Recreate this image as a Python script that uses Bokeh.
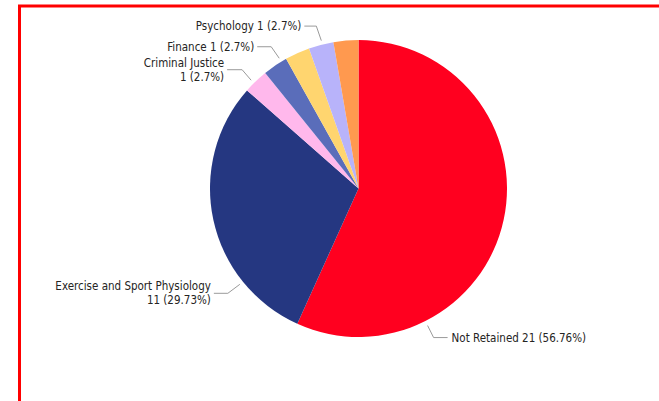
import math
from bokeh.plotting import figure
from bokeh.models import Range1d, ColumnDataSource
from bokeh.embed import file_html
from bokeh.resources import INLINE
from bokeh.core.properties import value

# ---- data ----
categories = ["Not Retained", "Exercise and Sport Physiology", "Criminal Justice",
              "Finance", "", "Psychology", ""]   # two slices carry no visible label
counts = [21, 11, 1, 1, 1, 1, 1]
colors = ["#FF001F", "#253781", "#FFB8EC", "#5A6DBA", "#FFD56F", "#B8B3FA", "#FF994F"]

# ---- layout (page pixel space, y measured downward from top) ----
W, H = 659, 401
CX, CY, R = 358, 188, 148.5
FONT = value("'DejaVu Sans Condensed', 'Liberation Sans Narrow', sans-serif")
TEXT_COLOR = "#252423"
LEADER_COLOR = "#9a9a9a"

# per-label placement: fraction along the slice, elbow offset, leg length (signed), two-line?
label_layout = {
    0: dict(frac=0.75, rad=5, elbow=(6, 12), leg=14, split=False),
    1: dict(frac=0.25, rad=4, elbow=(-12, 9), leg=-14, split=True),
    2: dict(frac=0.40, rad=4, elbow=(-9, -10.5), leg=-15, split=True),
    3: dict(frac=0.78, rad=4, elbow=(-8, -11.5), leg=-14, split=False),
    5: dict(frac=0.55, rad=4, elbow=(-5, -14.5), leg=-12, split=False),
}


def fy(py):
    return H - py


total = sum(counts)
starts, ends = [], []
cum = 0
for c in counts:
    starts.append(math.pi / 2 - 2 * math.pi * cum / total)
    cum += c
    ends.append(math.pi / 2 - 2 * math.pi * cum / total)

p = figure(width=W, height=H, x_range=Range1d(0, W), y_range=Range1d(0, H),
           output_backend="svg", toolbar_location=None, min_border=0,
           x_axis_type=None, y_axis_type=None)
p.grid.visible = False
p.outline_line_color = None
p.background_fill_color = "white"
p.border_fill_color = "white"

# red frame (partially visible box)
p.line(x=[19, 19, W + 10], y=[fy(H + 10), fy(5.5), fy(5.5)],
       line_color="#FF0000", line_width=3, line_join="miter")

src = ColumnDataSource(dict(start=starts, end=ends, color=colors, name=categories, count=counts))
p.wedge(x=CX, y=fy(CY), radius=R, start_angle="start", end_angle="end", direction="clock",
        fill_color="color", line_color=None, source=src)


def fmt_pct(v):
    s = f"{v:.2f}".rstrip("0").rstrip(".")
    return s + "%"


for i, lay in label_layout.items():
    a0, a1 = starts[i], ends[i]
    ang = a0 + (a1 - a0) * lay["frac"]
    r = R + lay["rad"]
    ax, ay = CX + r * math.cos(ang), CY - r * math.sin(ang)
    ex, ey = ax + lay["elbow"][0], ay + lay["elbow"][1]
    lx = ex + lay["leg"]
    p.line(x=[ax, ex, lx], y=[fy(ay), fy(ey), fy(ey)],
           line_color=LEADER_COLOR, line_width=1)
    pct = fmt_pct(100 * counts[i] / total)
    val_txt = f"{counts[i]} ({pct})"
    left = lay["leg"] > 0
    tx = lx + (4 if left else -3)
    align = "left" if left else "right"
    if lay["split"]:
        lines = [(categories[i], ey - 7), (val_txt, ey + 7)]
    else:
        lines = [(f"{categories[i]} {val_txt}", ey)]
    for t, yy in lines:
        p.text(x=[tx], y=[fy(yy)], text=[t], text_font=FONT, text_font_size="11.5px",
               text_color=TEXT_COLOR, text_align=align, text_baseline="middle")

open("out.html", "w").write(file_html(p, INLINE))
